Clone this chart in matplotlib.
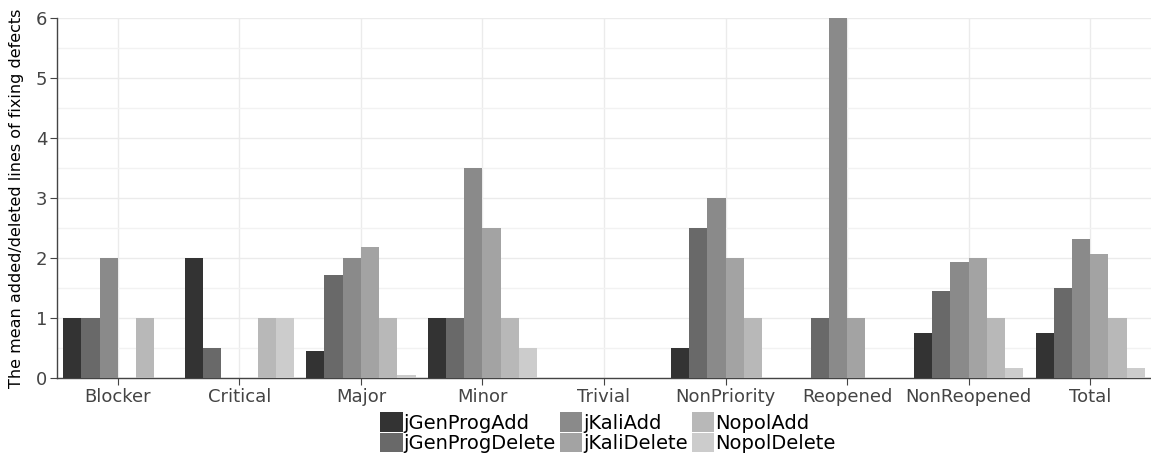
import numpy as np
import matplotlib
matplotlib.use("Agg")
import matplotlib.pyplot as plt
from matplotlib.patches import Patch

categories = ["Blocker", "Critical", "Major", "Minor", "Trivial",
              "NonPriority", "Reopened", "NonReopened", "Total"]
series_names = ["jGenProgAdd", "jGenProgDelete", "jKaliAdd",
                "jKaliDelete", "NopolAdd", "NopolDelete"]

jgenprog_add = [1.0, 2.0, 0.45, 1.0, 0.0, 0.5, 0.0, 0.75, 0.75]
jgenprog_delete = [1.0, 0.5, 1.72, 1.0, 0.0, 2.5, 1.0, 1.45, 1.5]
jkali_add = [2.0, 0.0, 2.0, 3.5, 0.0, 3.0, 6.0, 1.93, 2.32]
jkali_delete = [0.0, 0.0, 2.18, 2.5, 0.0, 2.0, 1.0, 2.0, 2.07]
nopol_add = [1.0, 1.0, 1.0, 1.0, 0.0, 1.0, 0.0, 1.0, 1.0]
nopol_delete = [0.0, 1.0, 0.05, 0.5, 0.0, 0.0, 0.0, 0.17, 0.17]

all_series = [jgenprog_add, jgenprog_delete, jkali_add,
              jkali_delete, nopol_add, nopol_delete]
colors = ["#333333", "#696969", "#8a8a8a", "#a3a3a3", "#b8b8b8", "#cccccc"]

fig = plt.figure(figsize=(11.51, 4.59), dpi=100)
ax = fig.add_axes([57 / 1151, 81 / 459, (1151 - 57) / 1151, (378 - 18) / 459])

x = np.arange(len(categories))
n = len(all_series)
group_width = 0.9
bar_w = group_width / n
for i, vals in enumerate(all_series):
    offs = -group_width / 2 + bar_w * (i + 0.5)
    ax.bar(x + offs, vals, width=bar_w, color=colors[i], zorder=3, linewidth=0)

ax.set_xlim(-0.5, len(categories) - 0.5)
ax.set_ylim(0, 6)
ax.set_xticks(x)
ax.set_xticklabels(categories)
ax.set_yticks(range(0, 7))
ax.set_yticks(np.arange(0.5, 6, 1.0), minor=True)

# grid like the plotly template
ax.grid(True, which="major", color="#ebebeb", linewidth=1, zorder=0)
ax.grid(True, which="minor", axis="y", color="#f2f2f2", linewidth=1, zorder=0)
ax.tick_params(which="minor", length=0)
ax.tick_params(which="major", direction="out", length=5, color="#444444",
               labelcolor="#444444", labelsize=13, pad=2)

for s in ["top", "right"]:
    ax.spines[s].set_visible(False)
for s in ["left", "bottom"]:
    ax.spines[s].set_color("#444444")
    ax.spines[s].set_linewidth(1)

ax.set_ylabel("The mean added/deleted lines of fixing defects",
              fontsize=11.5, color="black")
ax.yaxis.set_label_coords(-0.030, 0.5)

handles = [Patch(facecolor=c, edgecolor="none") for c in colors]
fig.legend(handles, series_names, loc="upper center",
           bbox_to_anchor=(0.528, 0.123), ncol=3, frameon=False,
           fontsize=14, handlelength=1.15, handleheight=1.15, handletextpad=0.05,
           columnspacing=0.2, labelspacing=0.02, borderpad=0)

fig.savefig("out.png", dpi=100)
